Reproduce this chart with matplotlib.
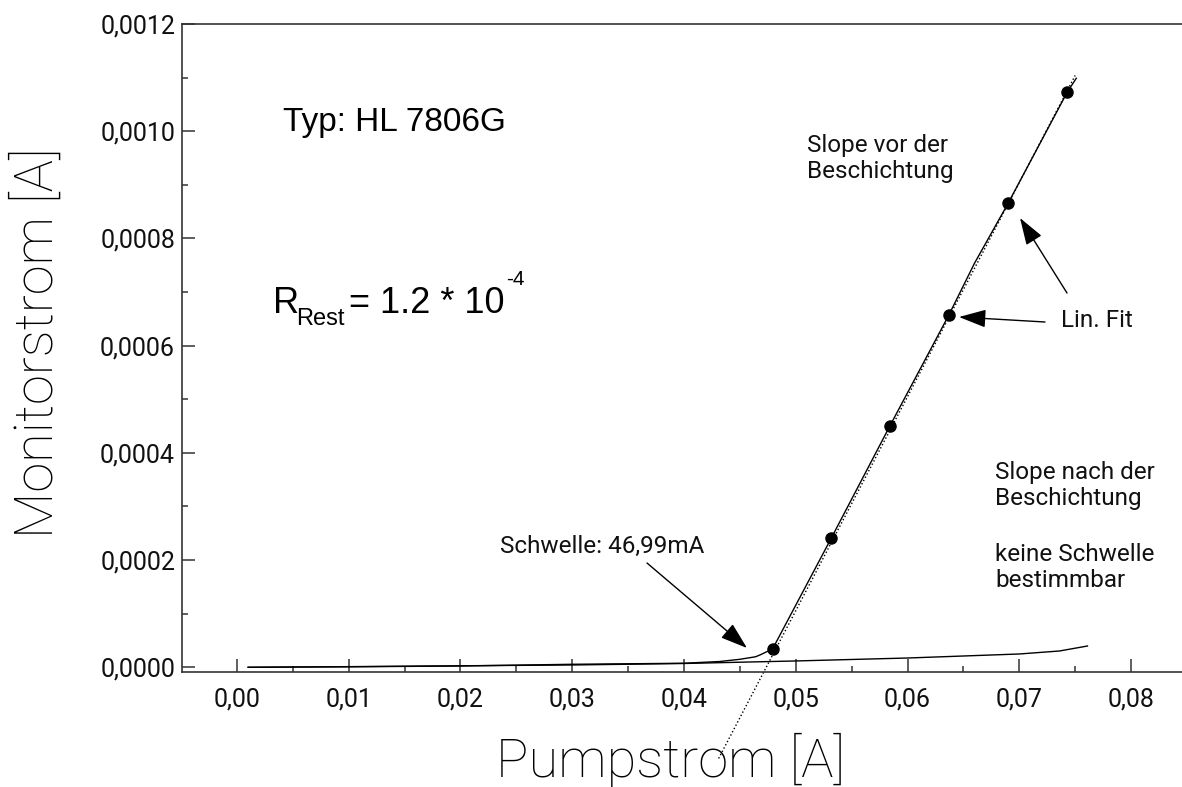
import matplotlib
matplotlib.use('Agg')
import matplotlib.pyplot as plt
from matplotlib import font_manager as fm
from matplotlib.patches import FancyArrowPatch
from matplotlib.ticker import MultipleLocator, FuncFormatter

# ── Messdaten vor der Beschichtung (Pumpstrom / Monitorstrom in A) ──
vor_x = [0.0010, 0.0100, 0.0200, 0.0300, 0.0400, 0.0432, 0.0450, 0.0464,
         0.0468, 0.0474, 0.0479, 0.0532, 0.0584, 0.0637, 0.0660, 0.0690,
         0.0743, 0.0751]
vor_y = [0.0, 0.9e-6, 2.4e-6, 5.6e-6, 7.5e-6, 1.08e-5, 1.49e-5, 1.96e-5,
         2.3e-5, 2.9e-5, 3.32e-5, 2.418e-4, 4.494e-4, 6.572e-4, 7.54e-4,
         8.655e-4, 1.0732e-3, 1.0987e-3]

# Messpunkte für den linearen Fit
fit_pts_x = [0.04792, 0.05318, 0.05843, 0.06369, 0.06897, 0.07425]
fit_pts_y = [3.32e-5, 2.418e-4, 4.494e-4, 6.572e-4, 8.655e-4, 1.0732e-3]

# Lin. Fit (Endpunkte)
fit_x = [0.0431, 0.0750]
fit_y = [-1.70e-4, 1.104e-3]

# ── nach der Beschichtung ──
nach_x = [0.0010, 0.0100, 0.0200, 0.0300, 0.0400, 0.0500, 0.0600, 0.0700,
          0.0736, 0.0761]
nach_y = [0.0, 1.2e-6, 2.8e-6, 4.3e-6, 7.1e-6, 1.18e-5, 1.73e-5, 2.48e-5,
          3.04e-5, 3.97e-5]

x_ticks = [0.00, 0.01, 0.02, 0.03, 0.04, 0.05, 0.06, 0.07, 0.08]
y_ticks = [0.0000, 0.0002, 0.0004, 0.0006, 0.0008, 0.0010, 0.0012]

W, H = 1182, 787


def pick_font():
    """Helvetica-Ersatz suchen, mit Light-Schnitt falls vorhanden"""
    for fam in ['Roboto', 'Inter', 'Open Sans', 'Lato']:
        for f in fm.fontManager.ttflist:
            if f.name == fam and f.weight in (300, 'light'):
                return fam, 'light'
    return 'Liberation Sans', 'normal'


LIGHT, LW = pick_font()
THIN = 'Roboto' if LIGHT == 'Roboto' else 'Liberation Sans'
REG = 'Liberation Sans'


def px(x, y):
    return (x / W, 1 - y / H)


fig = plt.figure(figsize=(W / 100, H / 100), dpi=100)
ax = fig.add_axes([182 / W, (H - 672) / H, 1 - 182 / W, (672 - 24) / H])

ax.plot(nach_x, nach_y, '-', color='black', lw=1.0)
ax.plot(vor_x, vor_y, '-', color='black', lw=1.0)
ax.plot(fit_x, fit_y, ':', color='black', lw=1.0, clip_on=False)
ax.plot(fit_pts_x, fit_pts_y, 'o', color='black', ms=8)

ax.set_xlim(-0.00492, 0.08456)
ax.set_ylim(-8.8e-6, 0.0012)

for s in ['left', 'bottom', 'top']:
    ax.spines[s].set_color('#333333')
    ax.spines[s].set_linewidth(1.2)
ax.spines['right'].set_visible(False)

ax.set_xticks(x_ticks)
ax.set_yticks(y_ticks)
ax.xaxis.set_minor_locator(MultipleLocator(0.005))
ax.yaxis.set_minor_locator(MultipleLocator(0.0001))
ax.xaxis.set_major_formatter(FuncFormatter(lambda v, p: f"{v:.2f}".replace('.', ',')))
ax.yaxis.set_major_formatter(FuncFormatter(lambda v, p: f"{v:.4f}".replace('.', ',')))
ax.tick_params(which='both', direction='in', color='#333333', width=1.1,
               top=False, right=False, labelsize=18)
ax.tick_params(which='major', length=9.5)
ax.tick_params(which='minor', length=4.5)
ax.tick_params(axis='x', which='major', pad=11)
ax.tick_params(axis='y', which='major', pad=5)
for lab in ax.get_xticklabels() + ax.get_yticklabels():
    lab.set_family(THIN)
    lab.set_color('#111111')

# Achsentitel
fig.text(*px(671, 777), 'Pumpstrom [A]', fontsize=39, family=LIGHT,
         weight=LW, ha='center', va='baseline')
fig.text(*px(53, 343), 'Monitorstrom [A]', fontsize=39, family=LIGHT,
         weight=LW, ha='center', va='baseline', rotation=90,
         rotation_mode='anchor')

# Beschriftungen
fig.text(*px(283, 131), 'Typ: HL 7806G', fontsize=24, family=REG, va='baseline')
fig.text(*px(273, 313), 'R', fontsize=26, family=REG, va='baseline')
fig.text(*px(296, 325), 'Rest', fontsize=17, family=REG, va='baseline')
fig.text(*px(349, 313), '= 1.2 * 10', fontsize=26, family=REG, va='baseline')
fig.text(*px(506, 285), '-4', fontsize=15, family=REG, va='baseline')

txt = dict(fontsize=17.5, family=THIN, va='baseline', linespacing=1.15,
           color='#111111')
fig.text(*px(807, 178), 'Slope vor der\nBeschichtung', **txt)
fig.text(*px(995, 505), 'Slope nach der\nBeschichtung', **txt)
fig.text(*px(995, 587), 'keine Schwelle\nbestimmbar', **txt)
fig.text(*px(1061, 327), 'Lin. Fit', **txt)
fig.text(*px(500, 553), 'Schwelle: 46,99mA', **txt)

arrow = dict(arrowstyle='-|>,head_length=0.6,head_width=0.2',
             mutation_scale=28, color='black', lw=1.0,
             shrinkA=0, shrinkB=0)
for tail, tip in [((1045, 322), (959, 317)),
                  ((1067, 293), (1020, 218)),
                  ((647, 563), (747, 648))]:
    fig.add_artist(FancyArrowPatch(px(*tail), px(*tip),
                                   transform=fig.transFigure, **arrow))

fig.savefig('out.png', dpi=100)
